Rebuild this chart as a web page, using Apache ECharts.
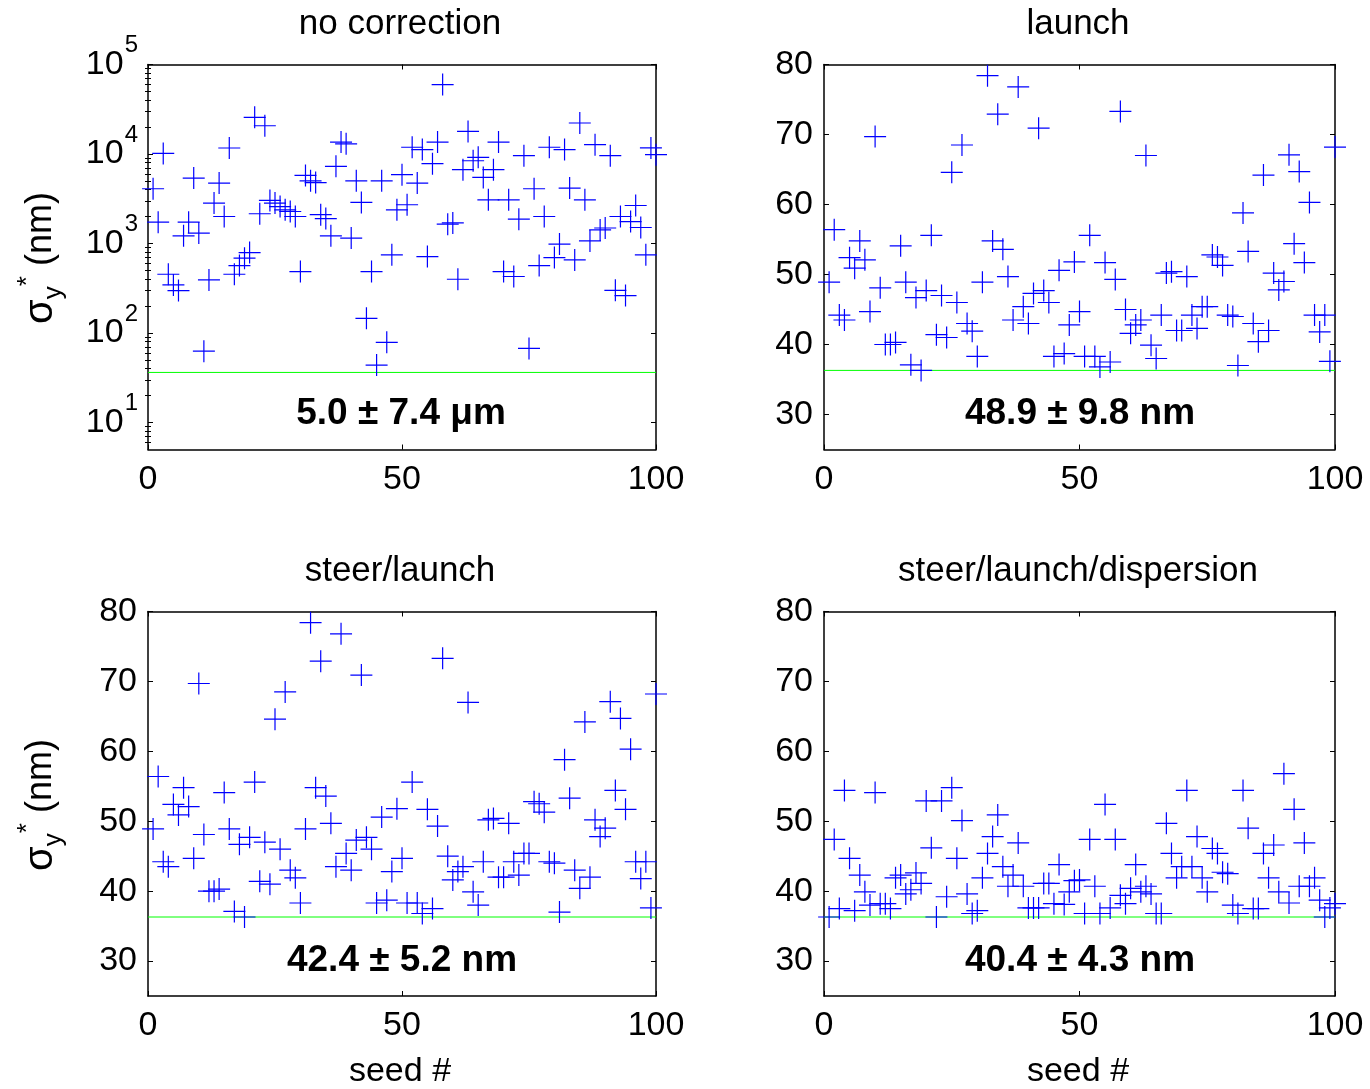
<!DOCTYPE html>
<html>
<head>
<meta charset="utf-8">
<script src="https://cdn.jsdelivr.net/npm/echarts@6/dist/echarts.min.js"></script>
<style>html,body{margin:0;padding:0;background:#fff}#c{width:1370px;height:1089px}</style>
</head>
<body>
<div id="c"></div>
<script>
// ---------- data ----------
const seeds = [1,2,3,4,5,6,7,8,9,10,11,12,13,14,15,16,17,18,19,20,21,22,23,24,25,26,27,28,29,30,
  31,32,33,34,35,36,37,38,39,40,41,42,43,44,45,46,47,48,49,50,51,52,53,54,55,56,57,58,59,60,
  61,62,63,64,65,66,67,68,69,70,71,72,73,74,75,76,77,78,79,80,81,82,83,84,85,86,87,88,89,90,
  91,92,93,94,95,96,97,98,99,100];

const noCorrection = [4090,1730,10160,454,345,298,1220,1730,5380,1310,
  62.8,392,2830,4730,2005,11670,454,567,686,793,
  25700,2150,20700,3030,2830,2590,2380,2280,2005,486,
  5770,5020,4800,2100,1900,1220,7280,13600,13000,1150,
  5020,2880,146,486,43.9,5020,78.7,747,2380,5870,
  2710,11900,4730,11200,715,7800,13600,59700,1645,1700,
  399,6680,17900,8410,9180,5480,3080,6680,13600,486,
  3080,428,1870,9570,67.3,4090,567,2005,11900,697,
  985,11200,4160,656,22200,3080,1070,12700,1420,1490,
  9570,300,2005,262,1760,2660,1510,747,11700,9840];

const launch = [48.9,56.4,44.2,43.5,52.4,50.9,54.8,52.1,44.7,69.7,
  48.1,40.0,40.0,40.3,54.1,48.9,37.1,46.7,36.3,47.7,
  55.6,41.4,47.0,41.0,64.6,46.0,68.5,43.0,41.9,38.3,
  48.9,78.4,54.8,72.9,53.6,49.7,43.5,76.8,45.4,43.0,
  47.3,70.9,47.7,46.0,38.3,50.6,38.7,42.8,51.8,44.7,
  38.3,55.6,38.3,36.8,51.7,37.5,49.3,73.3,45.0,41.6,
  42.8,43.5,67.0,39.9,38.0,44.2,50.2,50.4,42.0,42.0,
  49.7,44.2,42.3,45.4,45.4,52.8,52.5,51.3,44.2,44.0,
  37.0,58.8,53.3,43.0,40.4,64.2,42.0,50.2,47.8,49.0,
  67.1,54.4,64.7,51.7,60.3,44.2,41.8,44.2,37.6,68.2];

const steerLaunch = [48.9,56.4,44.2,43.5,52.4,50.9,54.8,52.1,44.7,69.7,
  48.1,40.0,40.0,40.3,54.1,48.9,37.1,46.7,36.3,47.7,
  55.6,41.4,47.0,41.0,64.6,46.0,68.5,43.0,41.9,38.3,
  48.9,78.4,54.8,72.9,53.6,49.7,43.5,76.8,45.4,43.0,
  47.3,70.9,47.7,46.0,38.3,50.6,38.7,42.8,51.8,44.7,
  38.3,55.6,38.3,36.8,51.7,37.5,49.3,73.3,45.0,41.6,
  42.8,43.5,67.0,39.9,38.0,44.2,50.2,50.4,42.0,42.0,
  49.7,44.2,42.3,45.4,45.4,52.8,52.5,51.3,44.2,44.0,
  37.0,58.8,53.3,43.0,40.4,64.2,42.0,50.2,47.8,49.0,
  67.1,54.4,64.7,51.7,60.3,44.2,41.8,44.2,37.6,68.2];

const steerLaunchDispersion = [36.3,47.4,37.5,54.4,44.7,37.2,42.3,39.9,38.0,54.1,
  38.2,38.2,37.5,41.9,42.3,39.6,40.2,42.6,41.1,52.9,
  46.2,36.3,52.9,39.2,54.8,44.7,50.1,39.6,36.8,37.2,
  41.9,45.4,47.8,50.9,43.5,40.7,42.3,46.9,40.7,37.6,
  37.6,37.6,41.1,41.1,38.2,43.8,38.1,39.9,41.5,41.6,
  36.8,47.4,40.7,36.8,52.4,37.6,47.4,39.4,38.2,40.4,
  43.8,39.9,40.7,39.6,36.8,36.8,49.7,45.4,41.9,43.5,
  54.4,43.5,47.8,41.9,39.9,46.1,45.4,42.7,42.5,38.0,
  36.8,54.4,49.0,37.5,37.5,45.4,41.9,46.6,39.9,56.8,
  38.3,51.7,40.7,46.9,40.7,41.9,38.7,36.3,37.6,38.2];

const targetSigma = 36.3;
const panelTitles = ['no correction', 'launch', 'steer/launch', 'steer/launch/dispersion'];
const panelStats = ['5.0 ± 7.4 μm', '48.9 ± 9.8 nm', '42.4 ± 5.2 nm', '40.4 ± 4.3 nm'];
const xTicks = [0, 50, 100];
const linTicks = [30, 40, 50, 60, 70, 80];
const logTicks = [10, 100, 1000, 10000, 100000];
const logMinorTicks = [6,7,8,9,20,30,40,50,60,70,80,90,200,300,400,500,600,700,800,900,
  2000,3000,4000,5000,6000,7000,8000,9000,20000,30000,40000,50000,60000,70000,80000,90000];
const xLabel = 'seed #';

// ---------- layout / style ----------
const FONT = 'Liberation Sans';
const CROSS = 'path://M10.4,0h1.2v22h-1.2z M0,10.4h22v1.2h-22z';
const grids = [
  {left: 148, top: 64.5, width: 508, height: 385},
  {left: 824, top: 64.5, width: 511, height: 385},
  {left: 148, top: 611.5, width: 508, height: 384.5},
  {left: 824, top: 611.5, width: 511, height: 384.5}
];
const panelData = [noCorrection, launch, steerLaunch, steerLaunchDispersion];

const lineStyle = {color: '#000', width: 1.5};
const tickStyle = {color: '#000', width: 1};
const xAxes = [], yAxes = [], series = [];

grids.forEach((g, i) => {
  const isLog = i === 0;
  ['bottom', 'top'].forEach(pos => {
    xAxes.push({
      gridIndex: i, type: 'value', position: pos, min: 0, max: 100, interval: 50,
      axisLine: {show: true, onZero: false, lineStyle},
      axisTick: {show: true, inside: true, length: 5, customValues: xTicks, lineStyle: tickStyle},
      axisLabel: {show: pos === 'bottom', margin: 13, color: '#000', fontSize: 34, fontFamily: FONT, customValues: xTicks},
      splitLine: {show: false}
    });
  });
  const mainY = yAxes.length;
  ['left', 'right'].forEach(pos => {
    if (isLog) {
      yAxes.push({
        gridIndex: i, type: 'log', logBase: 10, position: pos, min: 5, max: 100000,
        axisLine: {show: true, onZero: false, lineStyle},
        axisTick: {show: true, inside: true, length: 5, customValues: logTicks, lineStyle: tickStyle},
        axisLabel: {
          show: pos === 'left', margin: 10, color: '#000', customValues: logTicks,
          formatter: v => '{b|10}{s|' + Math.round(Math.log10(v)) + '}',
          rich: {
            b: {fontSize: 34, lineHeight: 34, fontFamily: FONT, color: '#000', verticalAlign: 'bottom'},
            s: {fontSize: 24, lineHeight: 24, fontFamily: FONT, color: '#000', verticalAlign: 'bottom', padding: [0, 0, 24, 1]}
          }
        },
        splitLine: {show: false}
      });
      yAxes.push({
        gridIndex: i, type: 'log', logBase: 10, position: pos, min: 5, max: 100000,
        axisLine: {show: false},
        axisTick: {show: true, inside: true, length: 3, customValues: logMinorTicks, lineStyle: tickStyle},
        axisLabel: {show: false},
        splitLine: {show: false}
      });
    } else {
      yAxes.push({
        gridIndex: i, type: 'value', position: pos, min: 25, max: 80,
        axisLine: {show: true, onZero: false, lineStyle},
        axisTick: {show: true, inside: true, length: 5, customValues: linTicks, lineStyle: tickStyle},
        axisLabel: {show: pos === 'left', margin: 11, color: '#000', fontSize: 34, fontFamily: FONT, customValues: linTicks},
        splitLine: {show: false}
      });
    }
  });
  series.push({
    type: 'line', xAxisIndex: i * 2, yAxisIndex: mainY,
    data: [[0, targetSigma], [100, targetSigma]],
    symbol: 'none', lineStyle: {color: '#00ff00', width: 1}, silent: true, z: 2
  });
  series.push({
    type: 'scatter', xAxisIndex: i * 2, yAxisIndex: mainY,
    data: seeds.map((s, k) => [s, panelData[i][k]]),
    symbol: CROSS, symbolSize: 22, clip: false, silent: true,
    itemStyle: {color: '#0000ff', opacity: 1}, z: 3
  });
});

// ---------- texts ----------
const graphic = [];
const titlePos = [[400, 24], [1078, 24], [400, 571], [1078, 571]];
const statPos = [[401, 414], [1080, 414], [402, 961], [1080, 961]];
panelTitles.forEach((t, i) => graphic.push({
  type: 'text', x: titlePos[i][0], y: titlePos[i][1], silent: true,
  style: {text: t, fontSize: 35, fontFamily: FONT, fill: '#000', align: 'center', verticalAlign: 'middle'}
}));
panelStats.forEach((t, i) => graphic.push({
  type: 'text', x: statPos[i][0], y: statPos[i][1], silent: true,
  style: {text: t, fontSize: 37, fontWeight: 'bold', fontFamily: FONT, fill: '#000', align: 'center', verticalAlign: 'middle'}
}));
[[400, 1072], [1078, 1072]].forEach(p => graphic.push({
  type: 'text', x: p[0], y: p[1], silent: true,
  style: {text: xLabel, fontSize: 34, fontFamily: FONT, fill: '#000', align: 'center', verticalAlign: 'middle'}
}));
[[41, 258], [41, 805]].forEach(p => graphic.push({
  type: 'text', x: p[0], y: p[1], rotation: Math.PI / 2, silent: true,
  style: {
    text: '{s|σ}{sub|y}{sup|*}{n| (nm)}', align: 'center', verticalAlign: 'middle',
    rich: {
      s: {fontSize: 40, lineHeight: 52, fontFamily: FONT, fill: '#000', verticalAlign: 'middle'},
      sub: {fontSize: 26, lineHeight: 26, fontFamily: FONT, fill: '#000', verticalAlign: 'bottom'},
      sup: {fontSize: 26, lineHeight: 26, fontFamily: FONT, fill: '#000', verticalAlign: 'top'},
      n: {fontSize: 36, lineHeight: 52, fontFamily: FONT, fill: '#000', verticalAlign: 'middle'}
    }
  }
}));

const chart = echarts.init(document.getElementById('c'), null, {renderer: 'canvas'});
chart.setOption({
  backgroundColor: '#fff',
  animation: false,
  grid: grids.map(g => Object.assign({outerBoundsMode: 'none', containLabel: false}, g)),
  xAxis: xAxes,
  yAxis: yAxes,
  series: series,
  graphic: graphic
});
</script>
</body>
</html>
